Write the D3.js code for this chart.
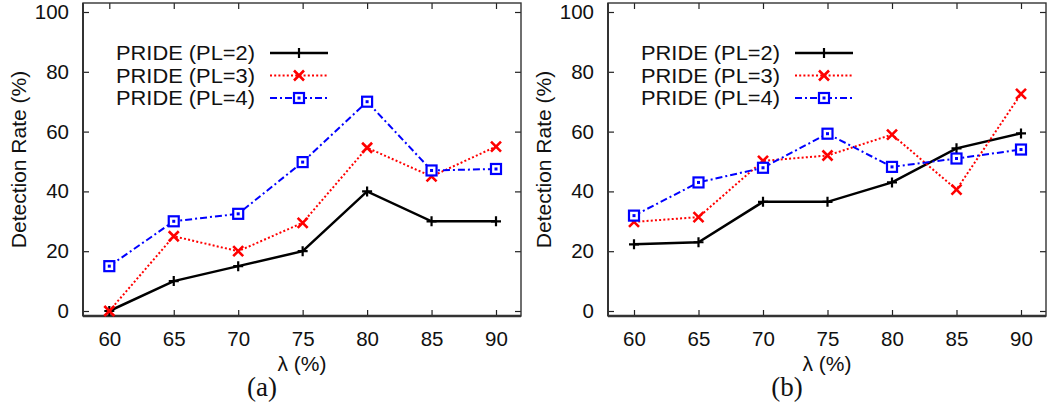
<!DOCTYPE html>
<html>
<head>
<meta charset="utf-8">
<script src="https://cdn.jsdelivr.net/npm/d3@7"></script>
<style>
  body { margin: 0; background: #fff; }
  svg { display: block; font-family: "Liberation Sans", Arial, sans-serif; }
  .tick text { font-size: 20.5px; fill: #111; }
</style>
</head>
<body>
<svg id="chart" width="1047" height="410"></svg>
<script>
// lambda values on the x axis
const lambdas = [60, 65, 70, 75, 80, 85, 90];
const yTicks = [0, 20, 40, 60, 80, 100];
const seriesNames = ["PRIDE (PL=2)", "PRIDE (PL=3)", "PRIDE (PL=4)"];

// panel (a)
const aPL2 = [0, 10, 15, 20, 40, 30, 30];
const aPL3 = [0, 25, 20, 29.5, 54.6, 45, 55];
const aPL4 = [15, 30, 32.5, 49.8, 70, 47, 47.5];

// panel (b)
const bPL2 = [22.3, 23, 36.5, 36.5, 43, 54.4, 59.4];
const bPL3 = [29.8, 31.4, 50.2, 52, 59, 40.6, 72.6];
const bPL4 = [31.9, 43, 47.9, 59.3, 48.2, 51, 54];

const styles = [
  { color: "#000", width: 2.5, dash: null, marker: "plus" },
  { color: "#ff0000", width: 2, dash: "2,2.2", marker: "cross" },
  { color: "#0000ff", width: 2, dash: "7,3,2,3", marker: "square" }
];

const svg = d3.select("#chart");

const drawMarker = (g, type, color, x, y) => {
  if (type === "plus") {
    g.append("path")
      .attr("d", `M${x - 5},${y}H${x + 5}M${x},${y - 5}V${y + 5}`)
      .attr("stroke", color).attr("stroke-width", 2.2).attr("fill", "none");
  } else if (type === "cross") {
    g.append("path")
      .attr("d", `M${x - 5},${y - 5}L${x + 5},${y + 5}M${x - 5},${y + 5}L${x + 5},${y - 5}`)
      .attr("stroke", color).attr("stroke-width", 2.6).attr("fill", "none");
  } else {
    g.append("rect")
      .attr("x", x - 5).attr("y", y - 5).attr("width", 10).attr("height", 10)
      .attr("stroke", color).attr("stroke-width", 2.2).attr("fill", "#fff");
    g.append("rect")
      .attr("x", x - 1.5).attr("y", y - 1.5).attr("width", 3).attr("height", 3)
      .attr("fill", color);
  }
};

const drawPanel = (left, right, x60, x90, series, caption) => {
  const top = 3;
  const bottom = 316;
  const x = d3.scaleLinear().domain([60, 90]).range([x60, x90]);
  const y = d3.scaleLinear().domain([0, 100]).range([311, 12]);
  const g = svg.append("g");

  // inward ticks on all four sides
  const axL = g.append("g").attr("transform", `translate(${left},0)`)
    .call(d3.axisLeft(y).tickValues(yTicks).tickSizeInner(-6).tickSizeOuter(0).tickPadding(14));
  const axR = g.append("g").attr("transform", `translate(${right},0)`)
    .call(d3.axisRight(y).tickValues(yTicks).tickSizeInner(-6).tickSizeOuter(0).tickFormat(""));
  const axB = g.append("g").attr("transform", `translate(0,${bottom})`)
    .call(d3.axisBottom(x).tickValues(lambdas).tickSizeInner(-6).tickSizeOuter(0).tickPadding(20));
  const axT = g.append("g").attr("transform", `translate(0,${top})`)
    .call(d3.axisTop(x).tickValues(lambdas).tickSizeInner(-6).tickSizeOuter(0).tickFormat(""));
  [axL, axR, axB, axT].forEach(a => {
    a.select(".domain").remove();
    a.selectAll(".tick line").attr("stroke", "#222").attr("stroke-width", 1.2);
  });
  axB.selectAll(".tick text").attr("dy", "0.5em");

  // frame
  g.append("rect")
    .attr("x", left).attr("y", top).attr("width", right - left).attr("height", bottom - top)
    .attr("fill", "none").attr("stroke", "#333").attr("stroke-width", 1.4);
  g.append("line")
    .attr("x1", left).attr("x2", right).attr("y1", bottom).attr("y2", bottom)
    .attr("stroke", "#333").attr("stroke-width", 2.4);
  g.append("line")
    .attr("x1", left).attr("x2", left).attr("y1", top).attr("y2", bottom)
    .attr("stroke", "#333").attr("stroke-width", 2);

  const line = d3.line().x((d, i) => x(lambdas[i])).y(d => y(d));

  series.forEach((vals, k) => {
    const s = styles[k];
    g.append("path")
      .datum(vals)
      .attr("d", line)
      .attr("fill", "none")
      .attr("stroke", s.color)
      .attr("stroke-width", s.width)
      .attr("stroke-dasharray", s.dash);
    vals.forEach((v, i) => drawMarker(g, s.marker, s.color, x(lambdas[i]), y(v)));
  });

  // legend
  const legRight = left + 172;
  const lineX1 = left + 187;
  const lineX2 = left + 245;
  const rowY = [53, 75.5, 98];
  seriesNames.forEach((name, k) => {
    const s = styles[k];
    g.append("text")
      .attr("x", legRight).attr("y", rowY[k]).attr("dy", "0.36em")
      .attr("text-anchor", "end").attr("font-size", 20).attr("fill", "#111")
      .attr("textLength", 139).attr("lengthAdjust", "spacingAndGlyphs")
      .text(name);
    g.append("line")
      .attr("x1", lineX1).attr("x2", lineX2).attr("y1", rowY[k]).attr("y2", rowY[k])
      .attr("stroke", s.color).attr("stroke-width", s.width)
      .attr("stroke-dasharray", s.dash);
    drawMarker(g, s.marker, s.color, (lineX1 + lineX2) / 2, rowY[k]);
  });

  // axis titles
  const midX = (left + right) / 2;
  g.append("text")
    .attr("transform", `translate(${left - 65},${(top + bottom) / 2}) rotate(-90)`)
    .attr("text-anchor", "middle").attr("dy", "0.36em")
    .attr("font-size", 21).attr("fill", "#111")
    .text("Detection Rate (%)");
  g.append("text")
    .attr("x", midX).attr("y", 371)
    .attr("text-anchor", "middle").attr("font-size", 21).attr("fill", "#111")
    .text("λ (%)");
  g.append("text")
    .attr("x", midX - 40).attr("y", 396)
    .attr("text-anchor", "middle").attr("font-size", 27)
    .attr("font-family", "'Liberation Serif', 'DejaVu Serif', serif").attr("fill", "#111")
    .text(caption);
};

drawPanel(83, 521, 109.3, 496, [aPL2, aPL3, aPL4], "(a)");
drawPanel(608, 1046, 634, 1021, [bPL2, bPL3, bPL4], "(b)");
</script>
</body>
</html>
